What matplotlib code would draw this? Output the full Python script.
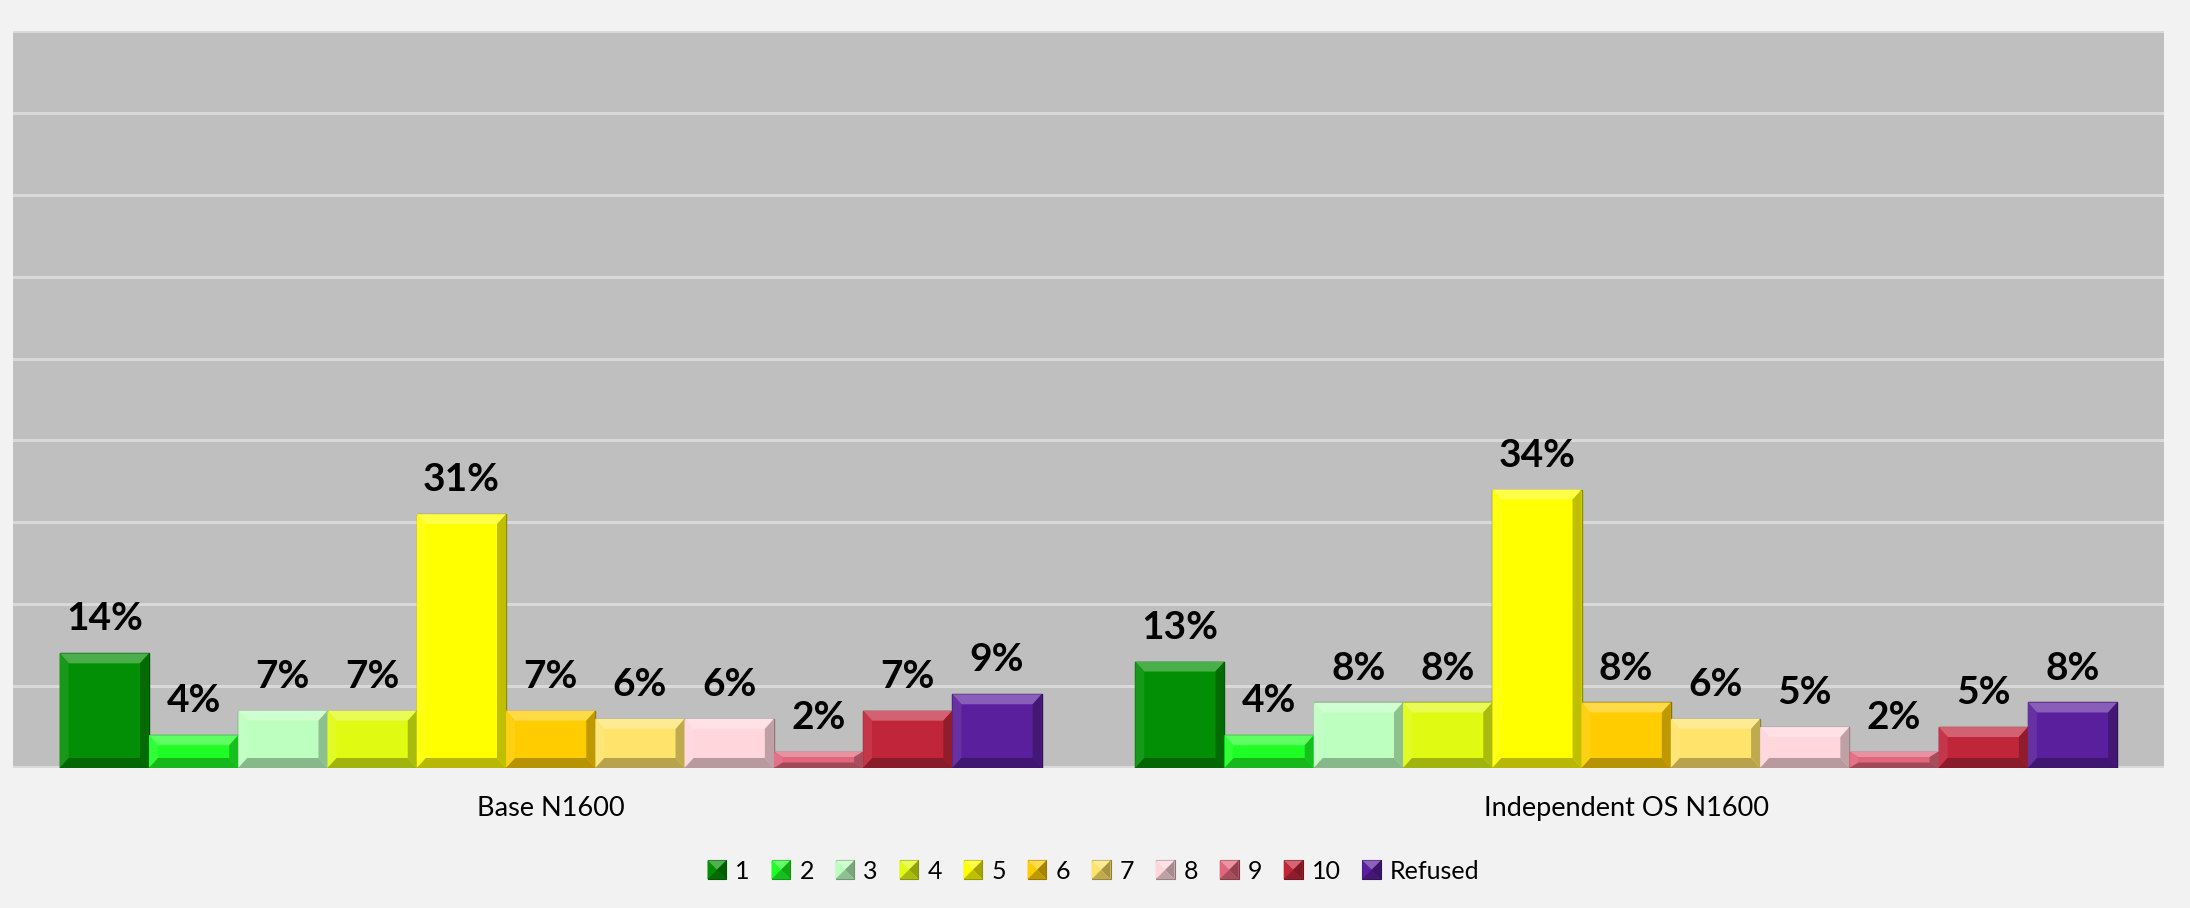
#!/usr/bin/env python3
from __future__ import annotations

import matplotlib

matplotlib.use("Agg")
import matplotlib.pyplot as plt
from matplotlib.colors import to_rgb
from matplotlib.legend_handler import HandlerBase
from matplotlib.patches import Polygon
import numpy as np


GROUPS = ["Base N1600", "Independent OS N1600"]
SERIES = ["1", "2", "3", "4", "5", "6", "7", "8", "9", "10", "Refused"]
BASE_VALUES = [14, 4, 7, 7, 31, 7, 6, 6, 2, 7, 9]
INDEPENDENT_VALUES = [13, 4, 8, 8, 34, 8, 6, 5, 2, 5, 8]
SERIES_COLORS = [
    "#038f05", "#1eff26", "#bcffbf", "#e0fa12", "#ffff00", "#ffcc00",
    "#ffe36a", "#ffd6dc", "#e0667a", "#c0253a", "#5a1f9c",
]

BG = "#f2f2f2"
PLOT_BG = "#bfbfbf"
GRID = "#d9d9d9"
FONT = ["Lato", "DejaVu Sans"]


def _shade(color, amount):
    # amount > 0 blends toward white, < 0 toward black
    rgb = np.array(to_rgb(color))
    if amount >= 0:
        return tuple(rgb + (1 - rgb) * amount)
    return tuple(rgb * (1 + amount))


def _bevel_polys(x0, y0, w, h, bx, by):
    bx = min(bx, w / 3)
    by = min(by, h / 3)
    x1, y1 = x0 + w, y0 + h
    return [
        ([(x0, y1), (x1, y1), (x1 - bx, y1 - by), (x0 + bx, y1 - by)], 0.28),
        ([(x0, y0), (x0 + bx, y0 + by), (x0 + bx, y1 - by), (x0, y1)], 0.08),
        ([(x1, y0), (x1 - bx, y0 + by), (x1 - bx, y1 - by), (x1, y1)], -0.25),
        ([(x0, y0), (x1, y0), (x1 - bx, y0 + by), (x0 + bx, y0 + by)], -0.28),
    ]


class BevelHandler(HandlerBase):
    def create_artists(self, legend, orig_handle, xdescent, ydescent, width, height, fontsize, trans):
        color = orig_handle.get_facecolor()
        side = min(width, height)
        x0 = -xdescent + (width - side) / 2
        y0 = -ydescent + (height - side) / 2
        artists = [Polygon([(x0, y0), (x0 + side, y0), (x0 + side, y0 + side), (x0, y0 + side)],
                           closed=True, facecolor=color, edgecolor=_shade(color, -0.45),
                           linewidth=0.8, transform=trans)]
        cx, cy = x0 + side / 2, y0 + side / 2
        tri = [
            ([(x0, y0 + side), (x0 + side, y0 + side), (cx, cy)], 0.3),
            ([(x0, y0), (x0, y0 + side), (cx, cy)], 0.0),
            ([(x0 + side, y0), (x0 + side, y0 + side), (cx, cy)], -0.35),
            ([(x0, y0), (x0 + side, y0), (cx, cy)], -0.25),
        ]
        for pts, amt in tri:
            artists.append(Polygon(pts, closed=True, facecolor=_shade(color, amt),
                                   edgecolor="none", transform=trans))
        return artists


def main() -> None:
    plt.rcParams["font.family"] = FONT
    fig = plt.figure(figsize=(21.9, 9.08), dpi=100, facecolor=BG)
    ax = fig.add_axes([0.0059, 0.1542, 0.9822, 0.8117])
    ax.set_facecolor(PLOT_BG)

    n = len(SERIES)
    bar_w = 0.083
    x = np.arange(len(GROUPS))
    offsets = (np.arange(n) - (n - 1) / 2) * bar_w

    ax.set_xlim(-0.5, 1.5)
    ax.set_ylim(0, 90)
    ax.set_yticks(np.arange(0, 91, 10))
    ax.yaxis.grid(True, color=GRID, linewidth=2.2)
    ax.set_axisbelow(True)
    ax.tick_params(axis="y", left=False, labelleft=False)
    for spine in ax.spines.values():
        spine.set_visible(False)
    ax.axhline(0, color=GRID, linewidth=3, zorder=1)

    # bevel size in data units (~9 px wide, ~10 px tall)
    px_per_x = fig.get_figwidth() * fig.dpi * 0.9822 / 2.0
    px_per_y = fig.get_figheight() * fig.dpi * 0.8117 / 90.0
    bx, by = 9 / px_per_x, 10 / px_per_y

    handles = []
    for i, (name, color) in enumerate(zip(SERIES, SERIES_COLORS)):
        vals = [BASE_VALUES[i], INDEPENDENT_VALUES[i]]
        bars = ax.bar(x + offsets[i], vals, width=bar_w, color=color,
                      edgecolor=_shade(color, -0.45), linewidth=1.0, label=name, zorder=2)
        handles.append(bars.patches[0])
        for rect, v in zip(bars.patches, vals):
            for pts, amt in _bevel_polys(rect.get_x(), rect.get_y(), rect.get_width(), rect.get_height(), bx, by):
                ax.add_patch(Polygon(pts, closed=True, facecolor=_shade(color, amt),
                                     edgecolor="none", zorder=3))
            ax.annotate(f"{v:.0f}%", xy=(rect.get_x() + rect.get_width() / 2, rect.get_height()),
                        xytext=(0, 16.5), textcoords="offset points", ha="center", va="baseline",
                        fontsize=28, fontweight="bold", color="black", zorder=4)

    ax.set_xticks(x)
    ax.set_xticklabels(GROUPS, fontsize=19.5, color="black")
    ax.tick_params(axis="x", length=0, pad=20)

    fig.legend(handles, SERIES, loc="center", bbox_to_anchor=(0.4993, 0.0407), ncol=n,
               frameon=False, fontsize=18, handlelength=0.78, handleheight=0.78,
               handletextpad=0.35, columnspacing=0.85,
               handler_map={h: BevelHandler() for h in handles})

    fig.savefig("out.png", dpi=100, facecolor=BG)
    plt.close(fig)


if __name__ == "__main__":
    main()
